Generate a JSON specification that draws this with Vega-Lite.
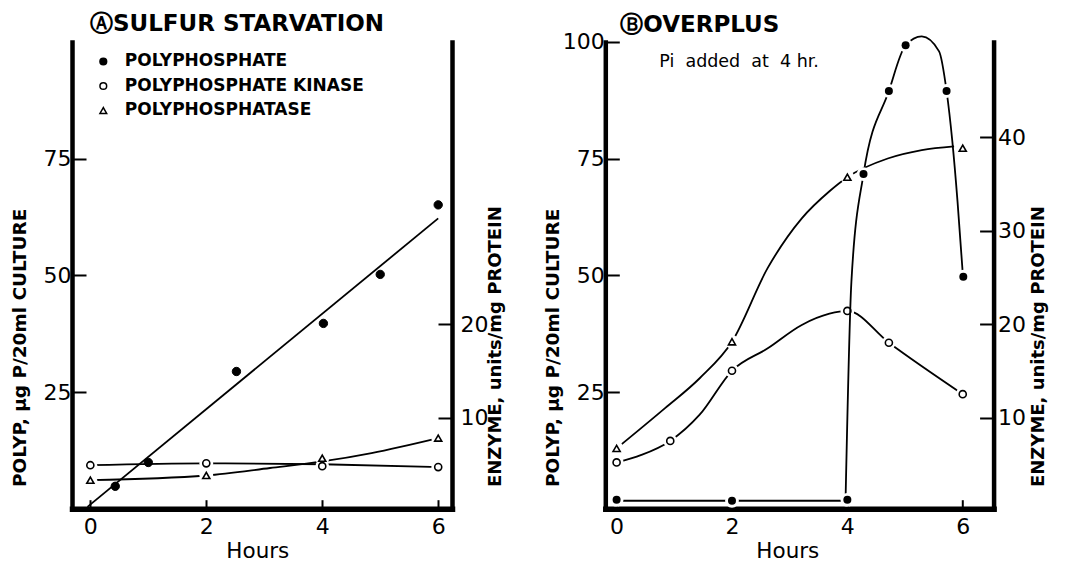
{
  "$schema": "https://vega.github.io/schema/vega-lite/v6.json",
  "background": "white",
  "padding": {"left": 10, "top": 13, "right": 5, "bottom": 0},
  "config": {
    "view": {"stroke": null},
    "font": "DejaVu Sans",
    "axis": {"domainColor": "black", "domainWidth": 4.5, "domainCap": "square", "tickColor": "black", "tickWidth": 2, "grid": false, "labelFont": "DejaVu Sans", "labelFontSize": 22, "labelColor": "black", "titleFont": "DejaVu Sans", "titleColor": "black", "titleFontWeight": "bold", "labelFlush": false},
    "title": {"font": "DejaVu Sans", "fontSize": 23, "fontWeight": "bold", "color": "black", "anchor": "start", "frame": "group"},
    "legend": {"labelFont": "DejaVu Sans", "labelFontSize": 17, "labelFontWeight": "bold", "labelColor": "black", "symbolSize": 45, "labelOffset": 13, "rowPadding": 6.5, "padding": 0, "labelLimit": 400}
  },
  "datasets": {
    "pts": [
      {"panel": "A", "series": "POLYPHOSPHATE", "hour": 0.43, "value": 4.8},
      {"panel": "A", "series": "POLYPHOSPHATE", "hour": 1.0, "value": 9.9},
      {"panel": "A", "series": "POLYPHOSPHATE", "hour": 2.52, "value": 29.4},
      {"panel": "A", "series": "POLYPHOSPHATE", "hour": 4.02, "value": 39.7},
      {"panel": "A", "series": "POLYPHOSPHATE", "hour": 5.0, "value": 50.2},
      {"panel": "A", "series": "POLYPHOSPHATE", "hour": 6.0, "value": 65.1},
      {"panel": "A", "series": "POLYPHOSPHATE KINASE", "hour": 0, "value": 4.9},
      {"panel": "A", "series": "POLYPHOSPHATE KINASE", "hour": 2, "value": 5.1},
      {"panel": "A", "series": "POLYPHOSPHATE KINASE", "hour": 4, "value": 4.8},
      {"panel": "A", "series": "POLYPHOSPHATE KINASE", "hour": 6, "value": 4.7},
      {"panel": "A", "series": "POLYPHOSPHATASE", "hour": 0, "value": 3.3},
      {"panel": "A", "series": "POLYPHOSPHATASE", "hour": 2, "value": 3.8},
      {"panel": "A", "series": "POLYPHOSPHATASE", "hour": 4, "value": 5.65},
      {"panel": "A", "series": "POLYPHOSPHATASE", "hour": 6, "value": 7.8},
      {"panel": "B", "series": "POLYPHOSPHATE", "hour": 0, "value": 1.9},
      {"panel": "B", "series": "POLYPHOSPHATE", "hour": 2, "value": 1.7},
      {"panel": "B", "series": "POLYPHOSPHATE", "hour": 4, "value": 1.9},
      {"panel": "B", "series": "POLYPHOSPHATE", "hour": 4.28, "value": 71.7},
      {"panel": "B", "series": "POLYPHOSPHATE", "hour": 4.72, "value": 89.5},
      {"panel": "B", "series": "POLYPHOSPHATE", "hour": 5.01, "value": 99.3},
      {"panel": "B", "series": "POLYPHOSPHATE", "hour": 5.72, "value": 89.5},
      {"panel": "B", "series": "POLYPHOSPHATE", "hour": 6.01, "value": 49.7},
      {"panel": "B", "series": "POLYPHOSPHATE KINASE", "hour": 0, "value": 5.2},
      {"panel": "B", "series": "POLYPHOSPHATE KINASE", "hour": 0.93, "value": 7.5},
      {"panel": "B", "series": "POLYPHOSPHATE KINASE", "hour": 2, "value": 15.0},
      {"panel": "B", "series": "POLYPHOSPHATE KINASE", "hour": 4, "value": 21.4},
      {"panel": "B", "series": "POLYPHOSPHATE KINASE", "hour": 4.72, "value": 18.0},
      {"panel": "B", "series": "POLYPHOSPHATE KINASE", "hour": 6, "value": 12.5},
      {"panel": "B", "series": "POLYPHOSPHATASE", "hour": 0, "value": 6.7},
      {"panel": "B", "series": "POLYPHOSPHATASE", "hour": 2, "value": 18.1},
      {"panel": "B", "series": "POLYPHOSPHATASE", "hour": 4, "value": 35.7},
      {"panel": "B", "series": "POLYPHOSPHATASE", "hour": 6, "value": 38.8}
    ],
    "curves": [
      {"panel": "A", "curve": "polyp fit", "hour": -0.05, "value": 0.4},
      {"panel": "A", "curve": "polyp fit", "hour": 6.0, "value": 62.2},
      {"panel": "A", "curve": "kinase", "hour": 0, "value": 4.9},
      {"panel": "A", "curve": "kinase", "hour": 2, "value": 5.1},
      {"panel": "A", "curve": "kinase", "hour": 4, "value": 5.0},
      {"panel": "A", "curve": "kinase", "hour": 6, "value": 4.7},
      {"panel": "A", "curve": "phosphatase", "hour": 0, "value": 3.3},
      {"panel": "A", "curve": "phosphatase", "hour": 2, "value": 3.8},
      {"panel": "A", "curve": "phosphatase", "hour": 3.1, "value": 4.6},
      {"panel": "A", "curve": "phosphatase", "hour": 4, "value": 5.3},
      {"panel": "A", "curve": "phosphatase", "hour": 4.85, "value": 6.2},
      {"panel": "A", "curve": "phosphatase", "hour": 6, "value": 7.8},
      {"panel": "B", "curve": "polyp flat", "hour": 0, "value": 1.7},
      {"panel": "B", "curve": "polyp flat", "hour": 4, "value": 1.7},
      {"panel": "B", "curve": "polyp rise", "hour": 3.97, "value": 2.5},
      {"panel": "B", "curve": "polyp rise", "hour": 4.07, "value": 48.6},
      {"panel": "B", "curve": "polyp rise", "hour": 4.28, "value": 71.7},
      {"panel": "B", "curve": "polyp rise", "hour": 4.72, "value": 89.5},
      {"panel": "B", "curve": "polyp rise", "hour": 5.01, "value": 99.3},
      {"panel": "B", "curve": "polyp rise", "hour": 5.29, "value": 101.2},
      {"panel": "B", "curve": "polyp rise", "hour": 5.59, "value": 98.0},
      {"panel": "B", "curve": "polyp rise", "hour": 5.72, "value": 89.5},
      {"panel": "B", "curve": "polyp rise", "hour": 5.82, "value": 78.7},
      {"panel": "B", "curve": "polyp rise", "hour": 5.91, "value": 65.8},
      {"panel": "B", "curve": "polyp rise", "hour": 6.0, "value": 50.5},
      {"panel": "B", "curve": "kinase", "hour": 0, "value": 5.2},
      {"panel": "B", "curve": "kinase", "hour": 0.43, "value": 6.0},
      {"panel": "B", "curve": "kinase", "hour": 0.93, "value": 7.5},
      {"panel": "B", "curve": "kinase", "hour": 1.44, "value": 10.3},
      {"panel": "B", "curve": "kinase", "hour": 2, "value": 15.0},
      {"panel": "B", "curve": "kinase", "hour": 2.62, "value": 17.4},
      {"panel": "B", "curve": "kinase", "hour": 3.21, "value": 19.9},
      {"panel": "B", "curve": "kinase", "hour": 3.69, "value": 21.1},
      {"panel": "B", "curve": "kinase", "hour": 4, "value": 21.4},
      {"panel": "B", "curve": "kinase", "hour": 4.72, "value": 18.0},
      {"panel": "B", "curve": "kinase", "hour": 6, "value": 12.5},
      {"panel": "B", "curve": "phosphatase", "hour": 0, "value": 6.7},
      {"panel": "B", "curve": "phosphatase", "hour": 0.84, "value": 11.0},
      {"panel": "B", "curve": "phosphatase", "hour": 1.44, "value": 14.2},
      {"panel": "B", "curve": "phosphatase", "hour": 2, "value": 18.1},
      {"panel": "B", "curve": "phosphatase", "hour": 2.62, "value": 26.0},
      {"panel": "B", "curve": "phosphatase", "hour": 3.21, "value": 31.3},
      {"panel": "B", "curve": "phosphatase", "hour": 3.69, "value": 34.2},
      {"panel": "B", "curve": "phosphatase", "hour": 4, "value": 35.7},
      {"panel": "B", "curve": "phosphatase", "hour": 4.7, "value": 37.7},
      {"panel": "B", "curve": "phosphatase", "hour": 5.29, "value": 38.6},
      {"panel": "B", "curve": "phosphatase", "hour": 5.85, "value": 39.0}
    ],
    "notes": [
      {"panel": "B", "note": "Pi\u00a0 added\u00a0 at\u00a0 4 hr."}
    ]
  },
  "hconcat": [
    {
      "width": 380,
      "height": 466.7,
      "title": {"text": "ⒶSULFUR  STARVATION", "dx": 18, "offset": 6},
      "encoding": {
        "x": {"field": "hour", "type": "quantitative", "scale": {"domain": [-0.316, 6.238], "nice": false, "zero": false},
          "axis": {"values": [0, 2, 4, 6], "format": "d", "title": "Hours", "titleFontSize": 21.5, "titleFontWeight": "normal", "tickSize": -9, "labelPadding": 17, "domainWidth": 5.5, "titleX": 185.3, "titleY": 42.5, "titleAlign": "center", "titleBaseline": "middle"}}
      },
      "layer": [
        {
          "encoding": {
            "y": {"field": "value", "type": "quantitative", "scale": {"domain": [0.25, 50.16], "nice": false, "zero": false},
              "axis": {"orient": "right", "values": [10, 20], "title": "ENZYME, units/mg PROTEIN", "titleFontSize": 18, "titleAngle": 270, "titleAlign": "left", "titleBaseline": "middle", "titleX": 43.3, "titleY": 444.5, "tickSize": -14, "labelPadding": 22}}
          },
          "layer": [
            {"data": {"name": "curves"}, "transform": [{"filter": "datum.panel === 'A' && datum.curve !== 'polyp fit'"}],
              "mark": {"type": "line", "interpolate": "monotone", "color": "black", "strokeWidth": 1.8},
              "encoding": {"detail": {"field": "curve"}}},
            {"data": {"name": "pts"}, "transform": [{"filter": "datum.panel === 'A' && datum.series !== 'POLYPHOSPHATE'"}],
              "mark": {"type": "point", "shape": "circle", "filled": true, "color": "white", "opacity": 1, "size": 190},
              "encoding": {}},
            {"data": {"name": "pts"}, "transform": [{"filter": "datum.panel === 'A' && datum.series !== 'POLYPHOSPHATE'"}],
              "mark": {"type": "point", "filled": true, "opacity": 1, "stroke": "black", "strokeWidth": 1.6, "size": 50},
              "encoding": {
                "shape": {"field": "series", "type": "nominal", "scale": {"domain": ["POLYPHOSPHATE", "POLYPHOSPHATE KINASE", "POLYPHOSPHATASE"], "range": ["circle", "circle", "triangle-up"]},
                  "legend": {"title": null, "orient": "none", "legendX": 22.8, "legendY": 11}},
                "fill": {"field": "series", "type": "nominal", "scale": {"domain": ["POLYPHOSPHATE", "POLYPHOSPHATE KINASE", "POLYPHOSPHATASE"], "range": ["black", "white", "white"]},
                  "legend": {"title": null, "orient": "none", "legendX": 22.8, "legendY": 11}}
              }}
          ]
        },
        {
          "encoding": {
            "y": {"field": "value", "type": "quantitative", "scale": {"domain": [0, 100], "nice": false, "zero": false},
              "axis": {"orient": "left", "values": [25, 50, 75], "title": "POLYP, μg P/20ml CULTURE", "titleFontSize": 18.5, "titleAngle": 270, "titleAlign": "left", "titleBaseline": "middle", "titleX": -52.7, "titleY": 444.5, "tickSize": -14, "labelPadding": 15}}
          },
          "layer": [
            {"data": {"name": "curves"}, "transform": [{"filter": "datum.panel === 'A' && datum.curve === 'polyp fit'"}],
              "mark": {"type": "line", "color": "black", "strokeWidth": 1.8},
              "encoding": {}},
            {"data": {"name": "pts"}, "transform": [{"filter": "datum.panel === 'A' && datum.series === 'POLYPHOSPHATE'"}],
              "mark": {"type": "point", "filled": true, "opacity": 1, "stroke": "black", "strokeWidth": 1, "size": 70},
              "encoding": {
                "shape": {"field": "series", "type": "nominal", "scale": {"domain": ["POLYPHOSPHATE", "POLYPHOSPHATE KINASE", "POLYPHOSPHATASE"], "range": ["circle", "circle", "triangle-up"]},
                  "legend": {"title": null, "orient": "none", "legendX": 22.8, "legendY": 11}},
                "fill": {"field": "series", "type": "nominal", "scale": {"domain": ["POLYPHOSPHATE", "POLYPHOSPHATE KINASE", "POLYPHOSPHATASE"], "range": ["black", "white", "white"]},
                  "legend": {"title": null, "orient": "none", "legendX": 22.8, "legendY": 11}}
              }}
          ]
        }
      ],
      "resolve": {"scale": {"y": "independent"}}
    },
    {
      "width": 388.3,
      "height": 466.7,
      "title": {"text": "ⒷOVERPLUS", "dx": 15, "dy": 12, "offset": 6},
      "layer": [
        {
          "encoding": {
            "x": {"field": "hour", "type": "quantitative", "scale": {"domain": [-0.196, 6.535], "nice": false, "zero": false},
              "axis": {"values": [0, 2, 4, 6], "format": "d", "title": "Hours", "titleFontSize": 21.5, "titleFontWeight": "normal", "tickSize": -9, "labelPadding": 17, "domainWidth": 5.5, "titleX": 182, "titleY": 42.5, "titleAlign": "center", "titleBaseline": "middle"}},
            "y": {"field": "value", "type": "quantitative", "scale": {"domain": [0.25, 50.16], "nice": false, "zero": false},
              "axis": {"orient": "right", "values": [10, 20, 30, 40], "title": "ENZYME, units/mg PROTEIN", "titleFontSize": 18, "titleAngle": 270, "titleAlign": "left", "titleBaseline": "middle", "titleX": 45.2, "titleY": 444.5, "tickSize": -14, "labelPadding": 18}}
          },
          "layer": [
            {"data": {"name": "curves"}, "transform": [{"filter": "datum.panel === 'B' && (datum.curve === 'kinase' || datum.curve === 'phosphatase')"}],
              "mark": {"type": "line", "interpolate": "monotone", "color": "black", "strokeWidth": 1.8},
              "encoding": {"detail": {"field": "curve"}}},
            {"data": {"name": "pts"}, "transform": [{"filter": "datum.panel === 'B' && datum.series !== 'POLYPHOSPHATE'"}],
              "mark": {"type": "point", "shape": "circle", "filled": true, "color": "white", "opacity": 1, "size": 190},
              "encoding": {}},
            {"data": {"name": "pts"}, "transform": [{"filter": "datum.panel === 'B' && datum.series !== 'POLYPHOSPHATE'"}],
              "mark": {"type": "point", "filled": true, "opacity": 1, "stroke": "black", "strokeWidth": 1.6, "size": 50},
              "encoding": {
                "shape": {"field": "series", "type": "nominal", "scale": {"domain": ["POLYPHOSPHATE", "POLYPHOSPHATE KINASE", "POLYPHOSPHATASE"], "range": ["circle", "circle", "triangle-up"]}, "legend": null},
                "fill": {"field": "series", "type": "nominal", "scale": {"domain": ["POLYPHOSPHATE", "POLYPHOSPHATE KINASE", "POLYPHOSPHATASE"], "range": ["black", "white", "white"]}, "legend": null}
              }}
          ]
        },
        {
          "encoding": {
            "x": {"field": "hour", "type": "quantitative", "scale": {"domain": [-0.196, 6.535], "nice": false, "zero": false},
              "axis": {"values": [0, 2, 4, 6], "format": "d", "title": "Hours", "titleFontSize": 21.5, "titleFontWeight": "normal", "tickSize": -9, "labelPadding": 17, "domainWidth": 5.5, "titleX": 182, "titleY": 42.5, "titleAlign": "center", "titleBaseline": "middle"}},
            "y": {"field": "value", "type": "quantitative", "scale": {"domain": [0, 100], "nice": false, "zero": false},
              "axis": {"orient": "left", "values": [25, 50, 75, 100], "title": "POLYP, μg P/20ml CULTURE", "titleFontSize": 18.5, "titleAngle": 270, "titleAlign": "left", "titleBaseline": "middle", "titleX": -52.7, "titleY": 444.5, "tickSize": -14, "labelPadding": 15}}
          },
          "layer": [
            {"data": {"name": "curves"}, "transform": [{"filter": "datum.panel === 'B' && (datum.curve === 'polyp flat' || datum.curve === 'polyp rise')"}],
              "mark": {"type": "line", "interpolate": "monotone", "color": "black", "strokeWidth": 1.8},
              "encoding": {"detail": {"field": "curve"}}},
            {"data": {"name": "pts"}, "transform": [{"filter": "datum.panel === 'B' && datum.series === 'POLYPHOSPHATE'"}],
              "mark": {"type": "point", "shape": "circle", "filled": true, "color": "white", "opacity": 1, "size": 190},
              "encoding": {}},
            {"data": {"name": "pts"}, "transform": [{"filter": "datum.panel === 'B' && datum.series === 'POLYPHOSPHATE'"}],
              "mark": {"type": "point", "shape": "circle", "filled": true, "color": "black", "opacity": 1, "size": 64},
              "encoding": {}}
          ]
        },
        {
          "data": {"name": "notes"},
          "mark": {"type": "text", "align": "left", "baseline": "alphabetic", "fontSize": 17.5, "font": "DejaVu Sans", "color": "black"},
          "encoding": {
            "x": {"datum": 0.74, "type": "quantitative", "scale": {"domain": [-0.196, 6.535], "nice": false, "zero": false},
              "axis": {"values": [0, 2, 4, 6], "format": "d", "title": "Hours", "titleFontSize": 21.5, "titleFontWeight": "normal", "tickSize": -9, "labelPadding": 17, "domainWidth": 5.5, "titleX": 182, "titleY": 42.5, "titleAlign": "center", "titleBaseline": "middle"}},
            "y": {"datum": 94.75, "type": "quantitative", "scale": {"domain": [0, 100], "nice": false, "zero": false}, "axis": null},
            "text": {"field": "note", "type": "nominal"}
          }
        }
      ],
      "resolve": {"scale": {"y": "independent"}}
    }
  ],
  "spacing": 153.3,
  "bounds": "flush",
  "resolve": {"scale": {"shape": "independent", "fill": "independent"}, "legend": {"shape": "independent", "fill": "independent"}}
}
